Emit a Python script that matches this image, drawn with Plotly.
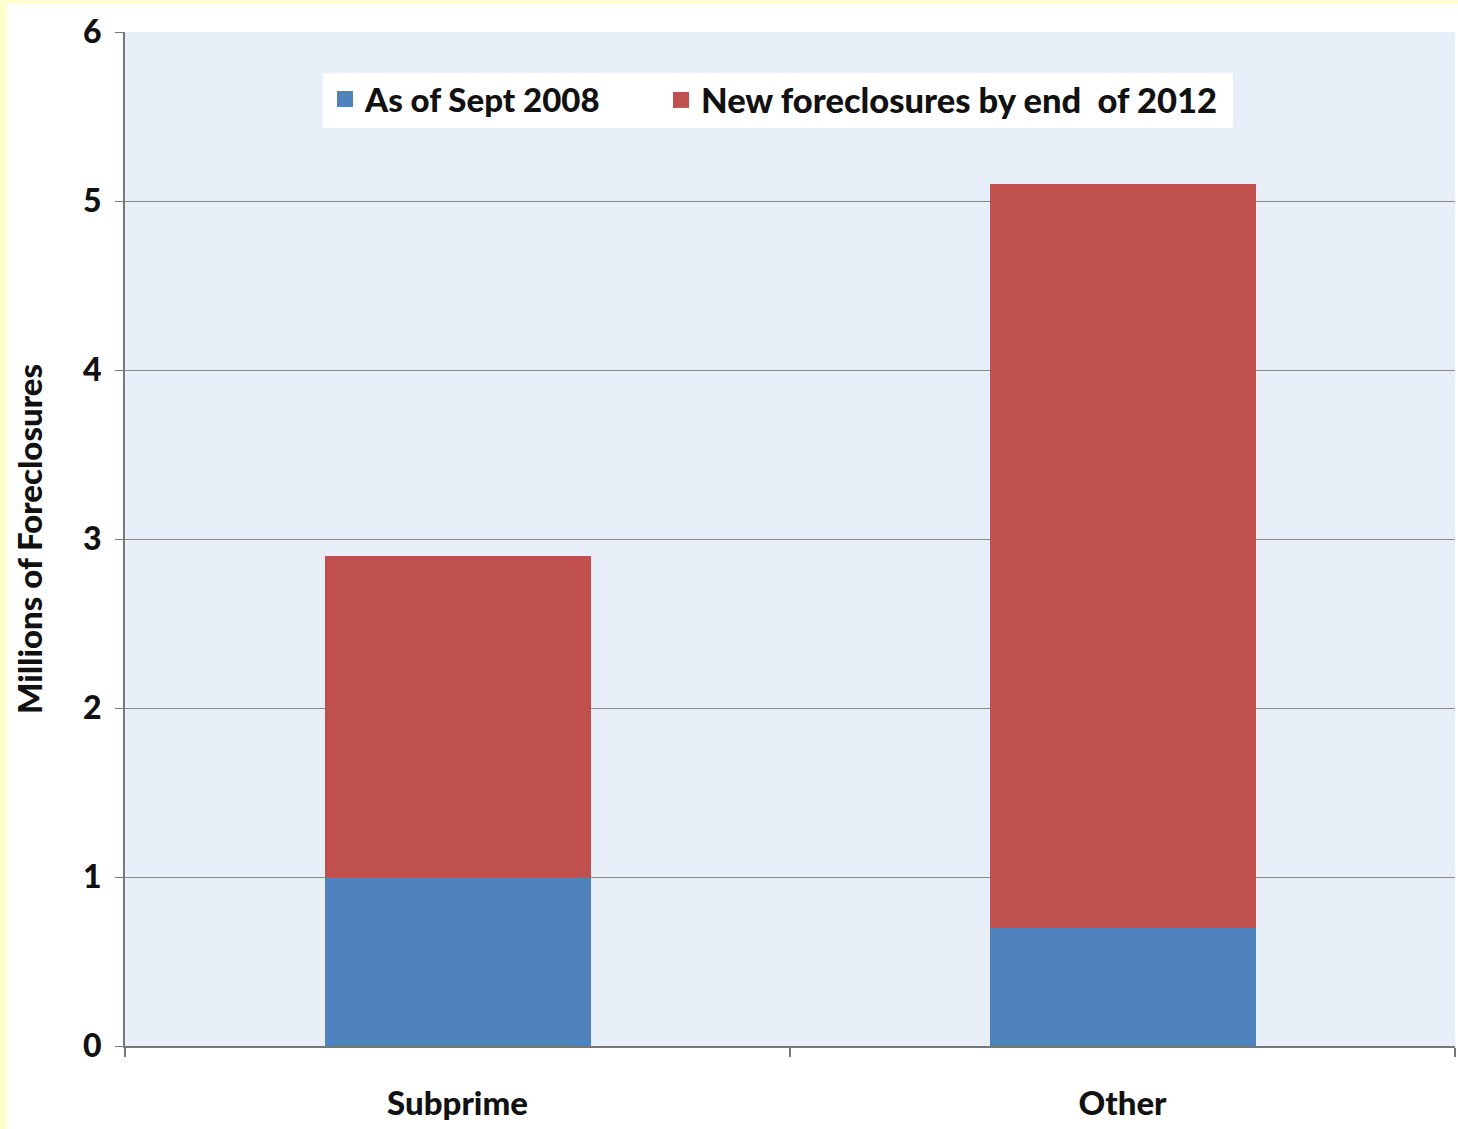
import plotly.graph_objects as go

categories = ["Subprime", "Other"]
as_of_sept_2008 = [1.0, 0.7]
new_by_2012 = [1.9, 4.4]
y_ticks = [0, 1, 2, 3, 4, 5, 6]
series_names = ["As of Sept 2008", "New foreclosures by end  of 2012"]
series_colors = ["#4F81BD", "#C0504D"]

W, H = 1458, 1129
L, R, T, B = 125, 3, 32, 83
pw = W - L - R
ph = H - T - B

def px(x):
    return (x - L) / pw

def py(y):
    return (H - B - y) / ph

FONT = "Lato"
WEIGHT = 900

fig = go.Figure()
for vals, name, col in zip([as_of_sept_2008, new_by_2012], series_names, series_colors):
    fig.add_trace(go.Bar(x=categories, y=vals, name=name, showlegend=False,
                         marker=dict(color=col, line=dict(width=0)), width=0.4))
# legend entries with larger square swatches, one per legend box
for name, col, lg in zip(series_names, series_colors, ["legend", "legend2"]):
    fig.add_trace(go.Scatter(x=[categories[0]], y=[None], mode="markers", name=name,
                             marker=dict(symbol="square", size=21, color=col),
                             showlegend=True, hoverinfo="skip", legend=lg))

# white legend background box
fig.add_shape(type="rect", xref="paper", yref="paper", x0=px(323), x1=px(1233), y0=py(128), y1=py(73),
              fillcolor="white", line=dict(width=0), layer="above")
# yellow frame strips on left and top
fig.add_shape(type="rect", xref="paper", yref="paper", x0=px(0), x1=px(7), y0=py(H), y1=py(0),
              fillcolor="#FFFFCC", line=dict(width=0), layer="above")
fig.add_shape(type="rect", xref="paper", yref="paper", x0=px(0), x1=px(W), y0=py(3), y1=py(0),
              fillcolor="#FFFFCC", line=dict(width=0), layer="above")

legend_font = dict(family=FONT, size=33, color="#111111", weight=WEIGHT)

fig.update_layout(
    width=W, height=H,
    barmode="stack",
    margin=dict(l=L, r=R, t=T, b=B, pad=0),
    paper_bgcolor="white",
    plot_bgcolor="#E9EFF8",
    font=dict(family=FONT, size=30, color="#111111"),
    showlegend=True,
    legend=dict(
        orientation="h",
        x=px(325), y=py(71), xanchor="left", yanchor="top",
        bgcolor="rgba(0,0,0,0)",
        font=legend_font, itemwidth=30,
    ),
    legend2=dict(
        orientation="h",
        x=px(661), y=py(71), xanchor="left", yanchor="top",
        bgcolor="rgba(0,0,0,0)",
        font=dict(family=FONT, size=34.5, color="#111111", weight=WEIGHT), itemwidth=30,
    ),
    xaxis=dict(
        type="category",
        tickson="boundaries",
        ticks="outside", ticklen=9, tickcolor="#777777", tickwidth=2,
        showline=True, linecolor="#777777", linewidth=2,
        showgrid=False,
        tickfont=dict(family=FONT, size=33, color="#111111", weight=WEIGHT),
        ticklabelstandoff=27,
        range=[-0.5, 1.5],
    ),
    yaxis=dict(
        range=[0, 6],
        tickvals=y_ticks,
        ticks="outside", ticklen=8, tickcolor="#777777", tickwidth=1,
        showline=True, linecolor="#777777", linewidth=2,
        showgrid=True, gridcolor="#8a8a8a", gridwidth=1,
        zeroline=False,
        tickfont=dict(family=FONT, size=32, color="#111111", weight=WEIGHT),
        ticklabelstandoff=7,
        title=dict(text="Millions of Foreclosures",
                   font=dict(family=FONT, size=33, color="#111111", weight=WEIGHT),
                   standoff=30),
    ),
)

fig.write_html("out.html")
